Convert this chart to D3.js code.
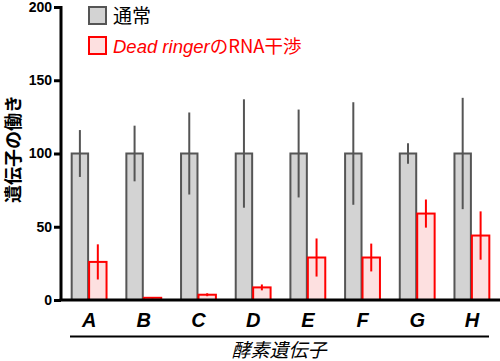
<!DOCTYPE html>
<html><head><meta charset="utf-8">
<script src="https://cdn.jsdelivr.net/npm/d3@7/dist/d3.min.js"></script>
<style>body{margin:0;background:#fff}svg{display:block}</style>
</head><body>
<svg id="c" width="500" height="361"></svg>
<script>
const categories = ["A","B","C","D","E","F","G","H"];
const normalValues = [100,100,100,100,100,100,100,100];
const normalErrors = [16,19,28,37,30,35,7,38];
const rnaiValues = [26,1.5,3.6,8.6,29,29,59,44];
const rnaiErrors = [12,0.5,1,2,13,9.5,9.6,16.5];
const yTicks = [0,50,100,150,200];
const seriesNames = ["通常","Dead ringer"];

const svg = d3.select("#c");
const fontLatin = "'Liberation Sans', Arial, 'Noto Sans CJK JP', sans-serif";
const fontCJK = "'Noto Sans CJK JP', 'Liberation Sans', sans-serif";

const y = d3.scaleLinear().domain([0,200]).range([300,7]);
const x0 = d3.scaleBand().domain(categories).range([61,500]).paddingInner(0.326).paddingOuter(0.177);
const x1 = d3.scaleBand().domain(["n","r"]).range([0,x0.bandwidth()]);

const data = categories.map((c,i)=>({c, n:normalValues[i], ne:normalErrors[i], r:rnaiValues[i], re:rnaiErrors[i]}));

const g = svg.append("g");
g.selectAll(".nb").data(data).join("rect")
  .attr("x", d=>x0(d.c)+x1("n")+1).attr("width", x1.bandwidth()-2)
  .attr("y", d=>y(d.n)).attr("height", d=>y(0)-y(d.n))
  .attr("fill","#d3d3d3").attr("stroke","#555").attr("stroke-width",2);
g.selectAll(".ne").data(data).join("line")
  .attr("x1", d=>x0(d.c)+x1("n")+x1.bandwidth()/2).attr("x2", d=>x0(d.c)+x1("n")+x1.bandwidth()/2)
  .attr("y1", d=>y(d.n+d.ne)).attr("y2", d=>y(d.n-d.ne))
  .attr("stroke","#555").attr("stroke-width",2);
g.selectAll(".rb").data(data).join("rect")
  .attr("x", d=>x0(d.c)+x1("r")).attr("width", x1.bandwidth()-1)
  .attr("y", d=>y(d.r)).attr("height", d=>y(0)-y(d.r))
  .attr("fill","#fde0e0").attr("stroke","#ff0000").attr("stroke-width",2);
g.selectAll(".re").data(data).join("line")
  .attr("x1", d=>x0(d.c)+x1("r")+x1.bandwidth()/2-0.5).attr("x2", d=>x0(d.c)+x1("r")+x1.bandwidth()/2-0.5)
  .attr("y1", d=>y(d.r+d.re)).attr("y2", d=>y(Math.max(0,d.r-d.re)))
  .attr("stroke","#ff0000").attr("stroke-width",2);

const yAxis = d3.axisLeft(y).tickValues(yTicks).tickSize(7).tickPadding(2);
const ya = svg.append("g").attr("transform","translate(61,0)").call(yAxis);
ya.select(".domain").attr("stroke","#000").attr("stroke-width",3).attr("d","M0,6V301");
ya.selectAll(".tick line").attr("stroke","#000").attr("stroke-width",3);
ya.selectAll(".tick text").attr("font-family",fontLatin).attr("font-weight","bold").attr("font-size",14).attr("fill","#000");

const xAxis = d3.axisBottom(x0).tickSize(0).tickPadding(13);
const xa = svg.append("g").attr("transform","translate(0,300)").call(xAxis);
xa.select(".domain").attr("stroke","#000").attr("stroke-width",3).attr("d","M59.5,0H500");
xa.selectAll(".tick text").attr("font-family",fontLatin).attr("font-weight","bold").attr("font-style","italic").attr("font-size",20).attr("fill","#000");

svg.append("line").attr("x1",70).attr("x2",489).attr("y1",336.5).attr("y2",336.5).attr("stroke","#000").attr("stroke-width",2);
svg.append("text").attr("x",279).attr("y",357).attr("text-anchor","middle")
  .attr("font-family",fontCJK).attr("font-style","italic").attr("font-size",19).text("酵素遺伝子");

svg.append("text").attr("transform","translate(20,149) rotate(-90)").attr("text-anchor","middle")
  .attr("font-family",fontCJK).attr("font-weight","bold").attr("font-size",18).text("遺伝子の働き");

svg.append("rect").attr("x",89).attr("y",7).attr("width",17).attr("height",17).attr("fill","#d3d3d3").attr("stroke","#555").attr("stroke-width",2);
svg.append("text").attr("x",113).attr("y",23).attr("font-family",fontCJK).attr("font-size",19).text(seriesNames[0]);
svg.append("rect").attr("x",89).attr("y",37).attr("width",17).attr("height",17).attr("fill","#fde0e0").attr("stroke","#ff0000").attr("stroke-width",2);
const lt = svg.append("text").attr("x",113).attr("y",53).attr("font-family",fontLatin).attr("font-size",18.5).attr("fill","#ff0000");
lt.append("tspan").attr("font-style","italic").text(seriesNames[1]);
lt.append("tspan").attr("font-family",fontCJK).text("のRNA干渉");
</script>
</body></html>
